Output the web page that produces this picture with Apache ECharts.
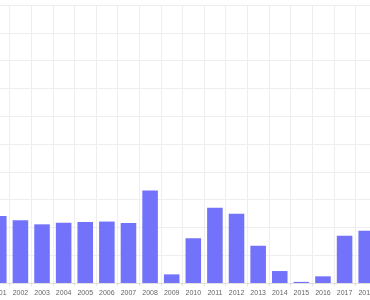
<!DOCTYPE html>
<html>
<head>
<meta charset="utf-8">
<script src="https://cdn.jsdelivr.net/npm/echarts@6/dist/echarts.min.js"></script>
<style>html,body{margin:0;padding:0;background:#fff;overflow:hidden;width:370px;height:300px}#c{position:absolute;left:-12px;top:0;width:389px;height:300px}</style>
</head>
<body>
<div id="c"></div>
<script>
const years = ['2001','2002','2003','2004','2005','2006','2007','2008','2009','2010','2011','2012','2013','2014','2015','2016','2017','2018'];
const values = [24.1, 22.6, 21.1, 21.7, 21.9, 22.1, 21.6, 33.3, 3.1, 16.1, 27.1, 24.9, 13.4, 4.3, 0.4, 2.4, 17.0, 18.8];
const yMin = 0, yMax = 100, yInterval = 10;

const chart = echarts.init(document.getElementById('c'), null, {renderer: 'canvas'});
chart.setOption({
  animation: false,
  grid: {left: 0, right: 0, top: 5, bottom: 17, containLabel: false},
  xAxis: {
    type: 'category',
    data: years,
    axisLine: {lineStyle: {color: '#e0e0e0'}},
    axisTick: {show: true, lineStyle: {color: '#e0e0e0'}, length: 3},
    axisLabel: {interval: 0, fontSize: 7, color: '#666', margin: 7, fontFamily: 'Liberation Sans'},
    splitLine: {show: true, lineStyle: {color: '#eeeeee'}}
  },
  yAxis: {
    type: 'value',
    min: yMin, max: yMax, interval: yInterval,
    axisLabel: {show: false},
    axisLine: {show: false},
    axisTick: {show: false},
    splitLine: {lineStyle: {color: '#eeeeee'}}
  },
  series: [{
    type: 'bar',
    data: values,
    barWidth: '72%',
    itemStyle: {color: '#7272fa'}
  }]
});
</script>
</body>
</html>
